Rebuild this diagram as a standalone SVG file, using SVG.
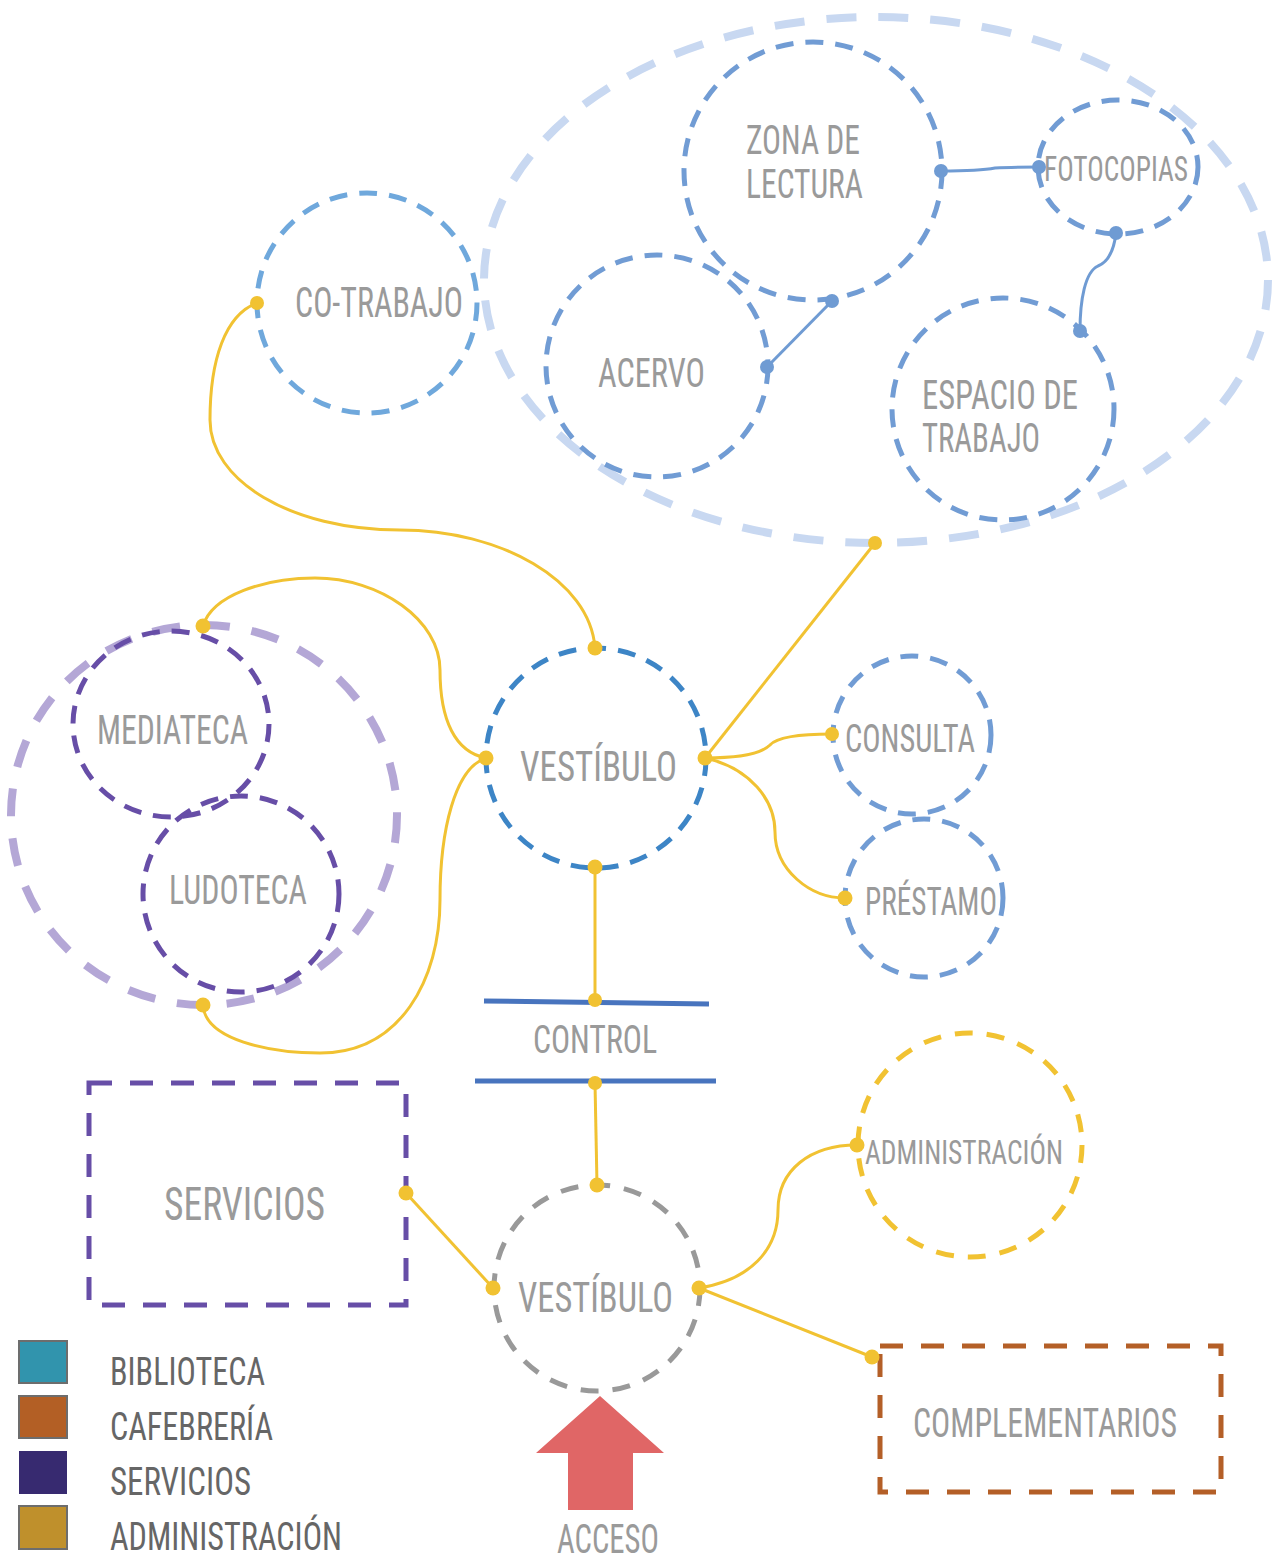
<svg xmlns="http://www.w3.org/2000/svg" width="1274" height="1561" viewBox="0 0 1274 1561">
  <defs>
    <style>
      .lbl { font-family: "Liberation Sans Narrow", "Roboto Condensed", "DejaVu Sans Condensed", "Liberation Sans", sans-serif; font-stretch: condensed; fill: #9a9a9a; }
      .leg { font-family: "Liberation Sans Narrow", "Roboto Condensed", "DejaVu Sans Condensed", "Liberation Sans", sans-serif; font-stretch: condensed; fill: #666666; font-size: 38px; }
      .zone-lib { fill: none; stroke: #c8d8f1; stroke-width: 8; stroke-dasharray: 30 22; }
      .zone-srv { fill: none; stroke: #b4a7d6; stroke-width: 8; stroke-dasharray: 28 22; }
      .room { fill: none; stroke: #719cd4; stroke-width: 5; stroke-dasharray: 18 12; }
      .room-co { fill: none; stroke: #6fa8dc; stroke-width: 5; stroke-dasharray: 18 12; }
      .room-hall { fill: none; stroke: #3d85c6; stroke-width: 5; stroke-dasharray: 18 12; }
      .room-srv { fill: none; stroke: #674ea7; stroke-width: 5; stroke-dasharray: 18 12; }
      .room-gray { fill: none; stroke: #999999; stroke-width: 5; stroke-dasharray: 18 14; }
      .room-adm { fill: none; stroke: #f1c232; stroke-width: 5; stroke-dasharray: 18 14; }
      .box-srv { fill: none; stroke: #674ea7; stroke-width: 5; stroke-dasharray: 23 18; }
      .box-caf { fill: none; stroke: #b45f27; stroke-width: 5; stroke-dasharray: 23 18; }
      .link { fill: none; stroke: #f1c232; stroke-width: 3; }
      .link-in { fill: none; stroke: #6f9bd3; stroke-width: 3; }
      .dot { fill: #f1c232; }
      .dot-in { fill: #6f9bd3; }
      .bar { stroke: #4874be; stroke-width: 5; }
      .swatch { stroke: #6d6d6d; stroke-width: 2; }
    </style>
  </defs>

  <!-- zone outlines -->
  <g id="zona-biblioteca">
    <ellipse class="zone-lib" cx="876" cy="280" rx="392" ry="263"/>
  </g>
  <g id="zona-servicios-culturales">
    <ellipse class="zone-srv" cx="204" cy="815" rx="193" ry="190"/>
  </g>

  <!-- rooms -->
  <g id="zona-lectura">
    <circle class="room" cx="813" cy="171" r="129"/>
    <text class="lbl" x="746" y="154" font-size="40" textLength="114" lengthAdjust="spacingAndGlyphs">ZONA DE</text>
    <text class="lbl" x="746" y="198" font-size="40" textLength="117" lengthAdjust="spacingAndGlyphs">LECTURA</text>
  </g>
  <g id="fotocopias">
    <ellipse class="room" cx="1118" cy="167" rx="80" ry="67"/>
    <text class="lbl" x="1044" y="181" font-size="35" textLength="144" lengthAdjust="spacingAndGlyphs">FOTOCOPIAS</text>
  </g>
  <g id="acervo">
    <circle class="room" cx="657" cy="366" r="111"/>
    <text class="lbl" x="598" y="387" font-size="40" textLength="107" lengthAdjust="spacingAndGlyphs">ACERVO</text>
  </g>
  <g id="espacio-trabajo">
    <circle class="room" cx="1003" cy="409" r="111"/>
    <text class="lbl" x="922" y="409" font-size="40" textLength="156" lengthAdjust="spacingAndGlyphs">ESPACIO DE</text>
    <text class="lbl" x="922" y="452" font-size="40" textLength="118" lengthAdjust="spacingAndGlyphs">TRABAJO</text>
  </g>
  <g id="co-trabajo">
    <circle class="room-co" cx="367" cy="303" r="110"/>
    <text class="lbl" x="295" y="317" font-size="42" textLength="168" lengthAdjust="spacingAndGlyphs">CO-TRABAJO</text>
  </g>
  <g id="vestibulo-biblioteca">
    <circle class="room-hall" cx="596" cy="758" r="110"/>
    <text class="lbl" x="520" y="781" font-size="43" textLength="157" lengthAdjust="spacingAndGlyphs">VESTÍBULO</text>
  </g>
  <g id="consulta">
    <circle class="room" cx="912" cy="735" r="79"/>
    <text class="lbl" x="845" y="752" font-size="38" textLength="130" lengthAdjust="spacingAndGlyphs">CONSULTA</text>
  </g>
  <g id="prestamo">
    <circle class="room" cx="924" cy="898" r="79"/>
    <text class="lbl" x="865" y="915" font-size="38" textLength="132" lengthAdjust="spacingAndGlyphs">PRÉSTAMO</text>
  </g>
  <g id="mediateca">
    <ellipse class="room-srv" cx="171" cy="724" rx="98" ry="93"/>
    <text class="lbl" x="97" y="744" font-size="40" textLength="151" lengthAdjust="spacingAndGlyphs">MEDIATECA</text>
  </g>
  <g id="ludoteca">
    <circle class="room-srv" cx="241" cy="894" r="98"/>
    <text class="lbl" x="169" y="904" font-size="40" textLength="138" lengthAdjust="spacingAndGlyphs">LUDOTECA</text>
  </g>
  <g id="control">
    <line class="bar" x1="484" y1="1001" x2="709" y2="1004"/>
    <line class="bar" x1="475" y1="1081" x2="716" y2="1081"/>
    <text class="lbl" x="533" y="1053" font-size="39" textLength="124" lengthAdjust="spacingAndGlyphs">CONTROL</text>
  </g>
  <g id="servicios">
    <rect class="box-srv" x="89" y="1083" width="317" height="222"/>
    <text class="lbl" x="164" y="1220" font-size="47" textLength="161" lengthAdjust="spacingAndGlyphs">SERVICIOS</text>
  </g>
  <g id="vestibulo-acceso">
    <circle class="room-gray" cx="597" cy="1288" r="103"/>
    <text class="lbl" x="518" y="1312" font-size="42" textLength="155" lengthAdjust="spacingAndGlyphs">VESTÍBULO</text>
  </g>
  <g id="administracion">
    <circle class="room-adm" cx="970" cy="1145" r="112"/>
    <text class="lbl" x="865" y="1164" font-size="33" textLength="198" lengthAdjust="spacingAndGlyphs">ADMINISTRACIÓN</text>
  </g>
  <g id="complementarios">
    <rect class="box-caf" x="880" y="1346" width="341" height="146"/>
    <text class="lbl" x="913" y="1437" font-size="40" textLength="264" lengthAdjust="spacingAndGlyphs">COMPLEMENTARIOS</text>
  </g>
  <g id="acceso">
    <polygon points="600,1396 664,1453 633,1453 633,1510 568,1510 568,1453 536,1453" fill="#e06666"/>
    <text class="lbl" x="557" y="1553" font-size="40" textLength="102" lengthAdjust="spacingAndGlyphs">ACCESO</text>
  </g>

  <!-- connectors -->
  <g id="connectors">
    <!-- inside the library zone -->
    <path class="link-in" d="M941,171 C970,171 985,170 995,168 C1010,167 1025,167 1039,167"/>
    <path class="link-in" d="M1116,233 C1114,250 1108,262 1098,266 C1085,272 1080,300 1080,331"/>
    <line class="link-in" x1="767" y1="367" x2="832" y2="301"/>
    <circle class="dot-in" cx="941" cy="171" r="7"/>
    <circle class="dot-in" cx="1039" cy="167" r="7"/>
    <circle class="dot-in" cx="1116" cy="233" r="7"/>
    <circle class="dot-in" cx="1080" cy="331" r="7"/>
    <circle class="dot-in" cx="767" cy="367" r="7"/>
    <circle class="dot-in" cx="832" cy="301" r="7"/>

    <!-- circulation links -->
    <path class="link" d="M257,303 C225,315 210,360 210,420 C210,480 290,530 400,530 C500,530 590,580 595,648"/>
    <line class="link" x1="875" y1="543" x2="705" y2="758"/>
    <path class="link" d="M203,626 C212,595 265,578 315,578 C380,578 440,620 440,670 C440,720 455,752 486,758"/>
    <path class="link" d="M203,1005 C205,1040 270,1053 320,1053 C400,1053 440,980 440,900 C440,830 455,768 486,758"/>
    <path class="link" d="M705,758 C740,758 762,753 770,745 C778,736 805,734 832,734"/>
    <path class="link" d="M705,758 C750,768 775,800 775,832 C775,870 810,898 845,898"/>
    <line class="link" x1="595" y1="867" x2="595" y2="1000"/>
    <line class="link" x1="595" y1="1083" x2="597" y2="1185"/>
    <line class="link" x1="406" y1="1193" x2="493" y2="1288"/>
    <path class="link" d="M699,1288 C750,1280 778,1250 778,1210 C778,1170 810,1145 857,1145"/>
    <line class="link" x1="699" y1="1288" x2="872" y2="1357"/>

    <circle class="dot" cx="257" cy="303" r="7"/>
    <circle class="dot" cx="595" cy="648" r="7.5"/>
    <circle class="dot" cx="875" cy="543" r="7"/>
    <circle class="dot" cx="705" cy="758" r="7.5"/>
    <circle class="dot" cx="486" cy="758" r="7.5"/>
    <circle class="dot" cx="203" cy="626" r="7.5"/>
    <circle class="dot" cx="203" cy="1005" r="7.5"/>
    <circle class="dot" cx="832" cy="734" r="7"/>
    <circle class="dot" cx="845" cy="898" r="7.5"/>
    <circle class="dot" cx="595" cy="867" r="7.5"/>
    <circle class="dot" cx="595" cy="1000" r="7"/>
    <circle class="dot" cx="595" cy="1083" r="7"/>
    <circle class="dot" cx="597" cy="1185" r="7.5"/>
    <circle class="dot" cx="406" cy="1193" r="7.5"/>
    <circle class="dot" cx="493" cy="1288" r="7.5"/>
    <circle class="dot" cx="699" cy="1288" r="7.5"/>
    <circle class="dot" cx="857" cy="1145" r="7.5"/>
    <circle class="dot" cx="872" cy="1357" r="7.5"/>
  </g>

  <!-- legend -->
  <g id="leyenda">
    <rect class="swatch" x="19" y="1341" width="48" height="42" fill="#3194ad"/>
    <rect class="swatch" x="19" y="1396" width="48" height="42" fill="#b35f25"/>
    <rect x="19" y="1451" width="48" height="43" fill="#372a70"/>
    <rect class="swatch" x="19" y="1506" width="48" height="43" fill="#bf902c"/>
    <text class="leg" x="110" y="1385" textLength="155" lengthAdjust="spacingAndGlyphs">BIBLIOTECA</text>
    <text class="leg" x="110" y="1440" textLength="163" lengthAdjust="spacingAndGlyphs">CAFEBRERÍA</text>
    <text class="leg" x="110" y="1495" textLength="141" lengthAdjust="spacingAndGlyphs">SERVICIOS</text>
    <text class="leg" x="110" y="1550" textLength="232" lengthAdjust="spacingAndGlyphs">ADMINISTRACIÓN</text>
  </g>
</svg>
